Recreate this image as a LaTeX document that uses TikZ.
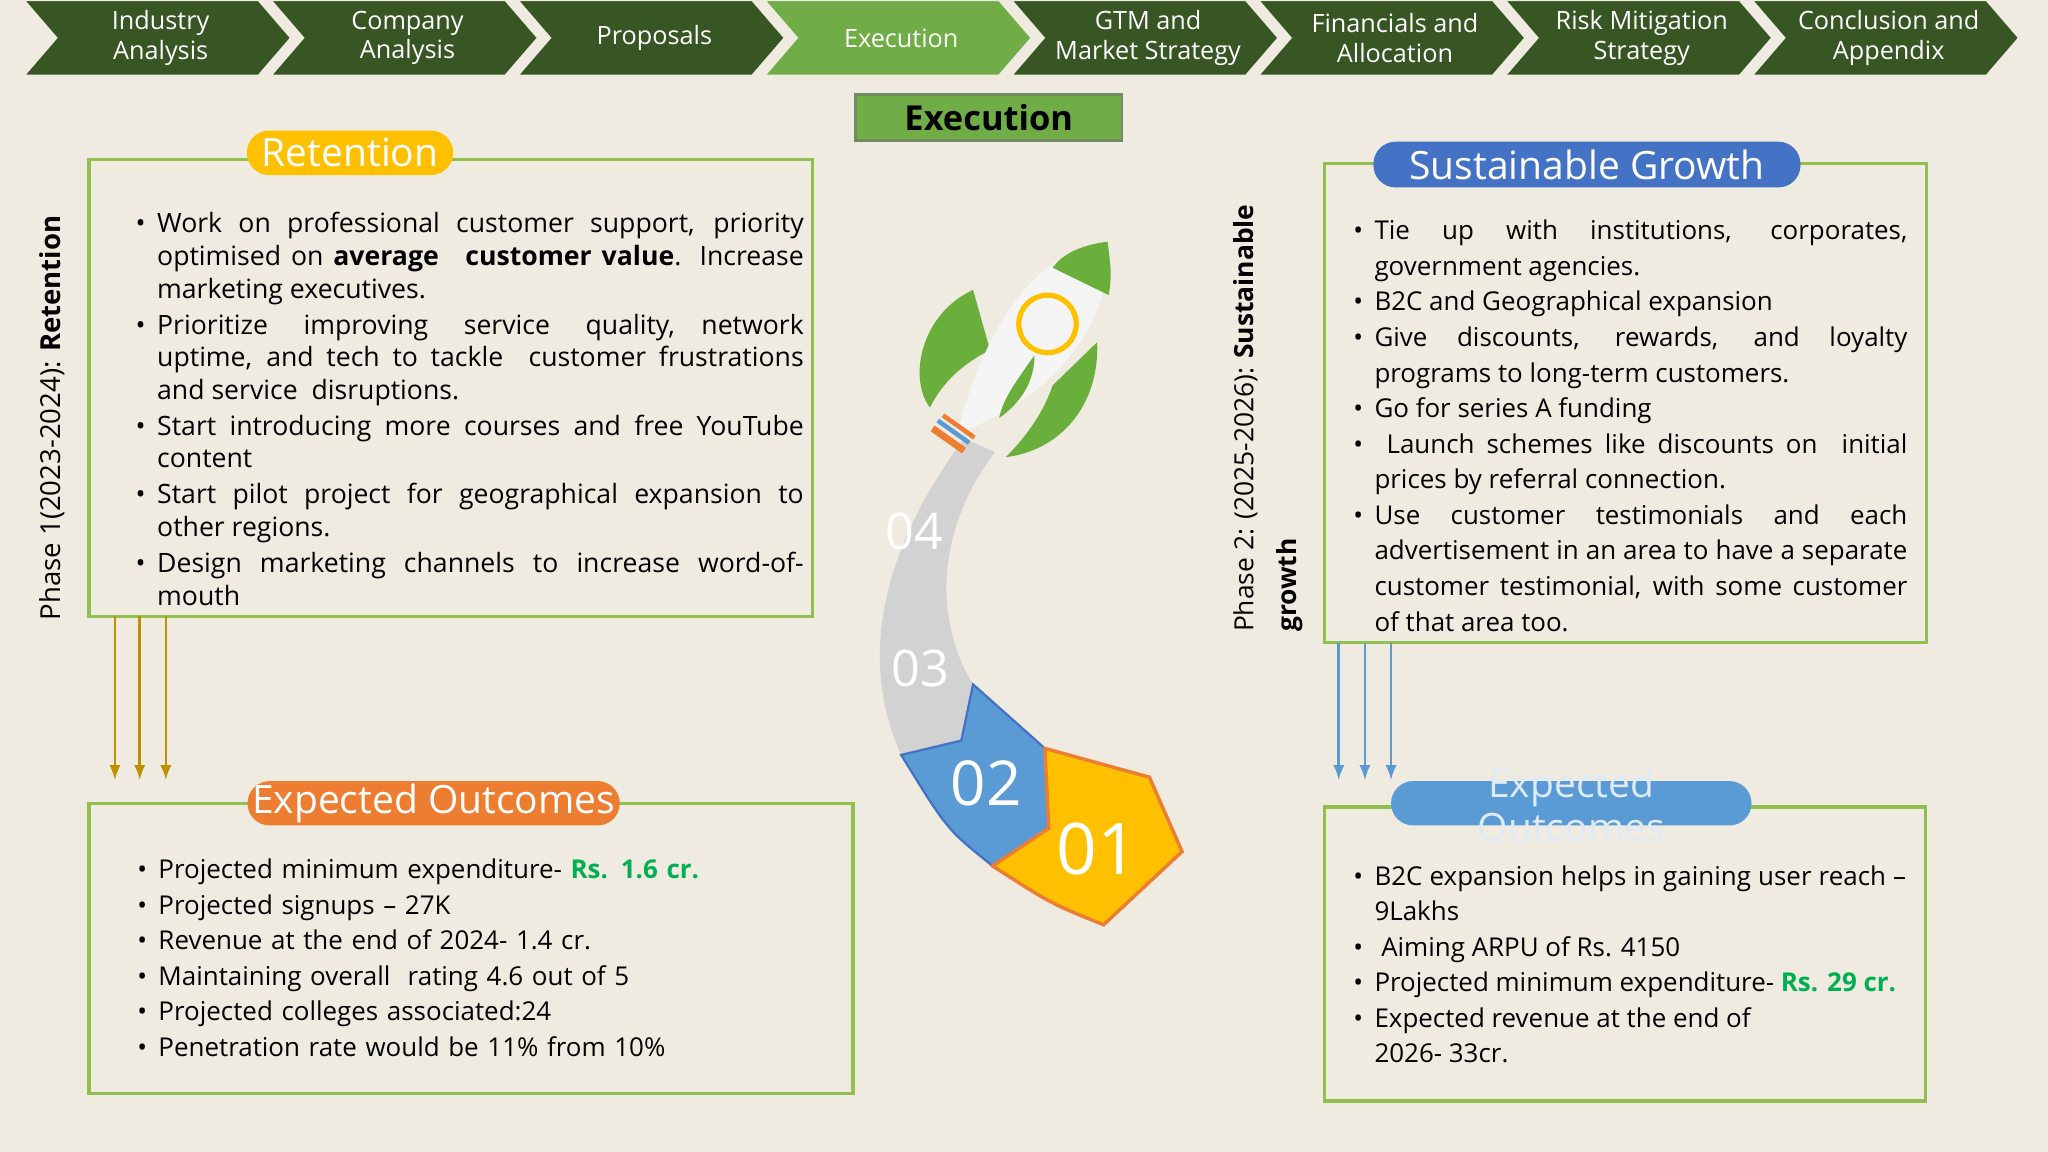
\documentclass[tikz,border=0pt]{standalone}
\usepackage{fontspec}
\setmainfont{Open Sans}
\usepackage{enumitem}
\setlist[itemize]{nosep,leftmargin=0.3cm,label=\textbullet}
\hyphenpenalty=10000
\newcommand\nohy{\hyphenpenalty10000\exhyphenpenalty0\relax}
\def\pxu{0.02cm}
\definecolor{bg}{HTML}{EFEBE1}
\definecolor{dg}{HTML}{375623}
\definecolor{lg}{HTML}{70AD47}
\definecolor{bx}{HTML}{92C050}
\definecolor{yl}{HTML}{FFC000}
\definecolor{og}{HTML}{ED7D31}
\definecolor{bl}{HTML}{4472C4}
\definecolor{lb}{HTML}{5B9BD5}
\definecolor{gd}{HTML}{BF9000}
\definecolor{gn}{HTML}{00B050}
\definecolor{rk}{HTML}{6AAF3C}
\begin{document}
\begin{tikzpicture}[x=0.02cm,y=-0.02cm,
  chev/.style={fill=dg,draw=bg,line width=1pt},
  chevtxt/.style={text=white,align=center,font=\fontsize{11}{13}\selectfont},
  box/.style={draw=bx,line width=1.5pt},
  pill/.style={rounded corners=0.34cm,text=white,font=\fontsize{17}{19}\selectfont,inner sep=0pt},
  body/.style={anchor=north west,align=justify,font=\fontsize{11.3}{14.2}\selectfont\nohy,inner sep=0pt},
  bnum/.style={text=white,font=\fontsize{22}{24}\selectfont}]
\fill[bg] (0,0) rectangle (1568,882);
\useasboundingbox (0,0) rectangle (1568,882);
% chevrons
\foreach \i/\t in {0/{Industry\\Analysis},1/{Company\\Analysis},2/{Proposals},3/{Execution},4/{GTM and\\Market Strategy},5/{Financials and\\Allocation},6/{Risk Mitigation\\Strategy},7/{Conclusion and\\Appendix}}{
  \pgfmathsetmacro\L{18+189*\i}
  \ifnum\i=3 \def\cc{lg}\else\def\cc{dg}\fi
  \draw[chev,fill=\cc] (\L,0) -- (\L+180,0) -- (\L+205,29) -- (\L+180,58) -- (\L,58) -- (\L+25,29) -- cycle;
  \node[chevtxt] (c\i) at (\L+105,29) {\t};
}
% title
\node[draw=dg!70,fill=lg,line width=1.2pt,minimum width=204*\pxu,minimum height=35*\pxu,font=\fontsize{15}{17}\selectfont\bfseries,inner sep=0pt] (title) at (757,90) {Execution};
% boxes
\draw[box] (68,122) rectangle (622,472);
\node[pill,fill=yl,minimum width=158*\pxu,minimum height=34*\pxu] (ret) at (268,117) {Retention};
\node[body,text width=510*\pxu,font=\fontsize{11.6}{14.2}\selectfont\nohy] (rtxt) at (105,153) {\begin{itemize}[itemsep=1.5pt]
\item Work on professional customer support, priority optimised on \textbf{average\quad customer value}. Increase marketing executives.
\item Prioritize improving service quality,\quad network uptime, and tech to tackle\ \ customer frustrations and service\ \ disruptions.
\item Start introducing more courses and free YouTube content
\item Start pilot project for geographical expansion to other regions.
\item Design marketing channels to increase word-of-mouth
\end{itemize}};
\draw[box] (68,615) rectangle (653,837);
\node[pill,fill=og,minimum width=285*\pxu,minimum height=34*\pxu] (eo) at (332,615) {Expected Outcomes};
\node[body,text width=480*\pxu,align=left,font=\fontsize{11.3}{15.5}\selectfont\nohy] (etxt) at (100,645) {\begin{itemize}[leftmargin=0.42cm]
\item Projected minimum expenditure- \textcolor{gn}{\textbf{Rs. 1.6 cr.}}
\item Projected signups -- 27K
\item Revenue at the end of 2024- 1.4 cr.
\item Maintaining overall\ \ rating 4.6 out of 5
\item Projected colleges associated:24
\item Penetration rate would be 11\% from 10\%
\end{itemize}};
\draw[box] (1014,125) rectangle (1475,492);
\node[pill,fill=bl,minimum width=327*\pxu,minimum height=35*\pxu] (sg) at (1215,126) {Sustainable Growth};
\node[body,text width=428*\pxu,font=\fontsize{11.3}{15.5}\selectfont\nohy] (stxt) at (1032,156) {\begin{itemize}[leftmargin=0.4cm]
\item Tie up with institutions, corporates, government agencies.
\item B2C and Geographical expansion
\item Give discounts, rewards, and loyalty programs to long-term customers.
\item Go for series A funding
\item \ Launch schemes like discounts on\ \ initial prices by referral connection.
\item Use customer testimonials and each advertisement in an area to have a separate customer testimonial, with some customer of that area too.
\end{itemize}};
\draw[box] (1014,618) rectangle (1474,843);
\node[pill,fill=lb,minimum width=276*\pxu,minimum height=34*\pxu] (eo2) at (1203,615) {};
\node[text=white!80!lb,align=center,font=\fontsize{17}{19}\selectfont] (eo2t) at (1203,616) {Expected\\Outcomes};
\node[body,text width=425*\pxu,font=\fontsize{11.3}{15.5}\selectfont\nohy] (e2txt) at (1034,650) {\begin{itemize}[leftmargin=0.36cm]
\item B2C expansion helps in gaining user reach -- 9Lakhs
\item \ Aiming ARPU of Rs. 4150
\item Projected minimum expenditure- \textcolor{gn}{\textbf{Rs. 29 cr.}}
\item Expected revenue at the end of\\ 2026- 33cr.
\end{itemize}};
% arrows
\foreach \x in {88,107,127}{
  \coordinate (ga\x) at (\x,472); \coordinate (gb\x) at (\x,597);
  \draw[gd,line width=1.2pt,-latex] (ga\x) -- (gb\x);}
\foreach \x in {1025,1045,1065}{
  \coordinate (ba\x) at (\x,492); \coordinate (bb\x) at (\x,597);
  \draw[lb,line width=1.2pt,-latex] (ba\x) -- (bb\x);}
% side texts
\node[rotate=90,font=\fontsize{12}{14}\selectfont] (p1) at (40,320) {Phase 1(2023-2024): \textbf{Retention}};
\node[rotate=90,font=\fontsize{11.5}{19}\selectfont,align=left,anchor=north west] (p2) at (938,490) {Phase 2: (2025-2026): \textbf{Sustainable}\\\textbf{growth}};
% rocket track
\fill[gray!35] (738,336) .. controls (690,400) and (650,490) .. (690,578) -- (736,567) -- (745,524) .. controls (712,470) and (720,400) .. (762,346) -- cycle;
\filldraw[fill=lb,draw=bl,line width=1pt] (690,578) -- (736,567) -- (745,524) -- (800,573) -- (803,634) -- (760,663) .. controls (725,635) .. (690,578) -- cycle;
\filldraw[fill=yl,draw=og,line width=1.5pt] (800,573) -- (880,595) -- (905,652) -- (845,708) .. controls (805,692) .. (760,663) -- (803,634) -- cycle;
\node[bnum] (n4) at (700,407) {04};
\node[bnum] (n3) at (705,512) {03};
\node[bnum,font=\fontsize{27}{29}\selectfont] (n2) at (755,600) {02};
\node[bnum,font=\fontsize{31}{33}\selectfont] (n1) at (840,650) {01};
% rocket
\fill[rk] (745,222) .. controls (705,240) and (695,290) .. (712,312) .. controls (722,292) and (738,278) .. (758,268) -- cycle;
\fill[rk] (840,262) .. controls (842,310) and (812,345) .. (770,350) .. controls (790,330) and (800,312) .. (806,295) -- cycle;
\fill[white!92!gray] (733,332) .. controls (755,245) and (795,192) .. (848,185) .. controls (852,245) and (812,302) .. (733,332) -- cycle;
\fill[rk] (848,185) .. controls (825,188) and (812,196) .. (806,205) -- (849,226) .. controls (851,210) .. (848,185) -- cycle;
\fill[rk] (792,272) .. controls (778,292) and (768,305) .. (765,320) .. controls (782,308) and (792,292) .. (792,272) -- cycle;
\draw[yl,line width=4*\pxu] (802,248) circle [radius=22];
\draw[og,line width=3pt] (714,328) -- (738,345);
\draw[lb,line width=2pt] (718,322) -- (742,339);
\draw[og,line width=2pt] (722,318) -- (746,335);
\end{tikzpicture}
\end{document}
